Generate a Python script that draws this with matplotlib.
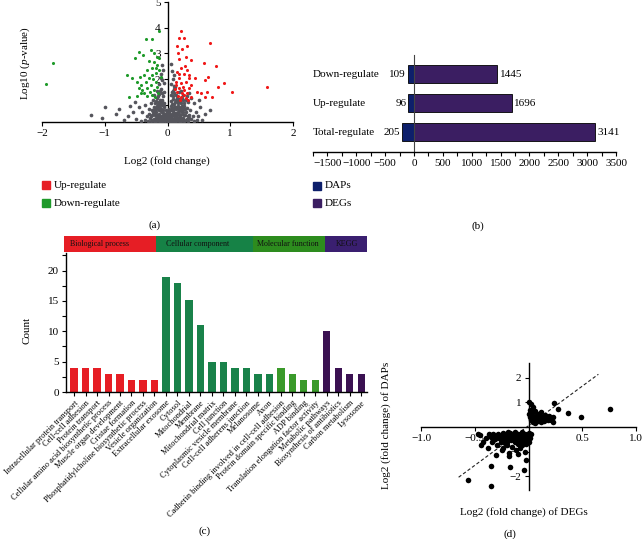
import matplotlib
matplotlib.use('Agg')
import matplotlib.pyplot as plt
from matplotlib.patches import Rectangle
from matplotlib.ticker import MultipleLocator, FixedLocator

plt.rcParams['font.family'] = 'Liberation Serif'
plt.rcParams['mathtext.fontset'] = 'custom'
plt.rcParams['mathtext.rm'] = 'Liberation Serif'
plt.rcParams['mathtext.it'] = 'Liberation Serif:italic'

# ---------------- data ----------------
# (a) volcano plot, (log2 fold change, log10 p-value)
up_pts = [(0.21, 3.88), (0.18, 3.58), (0.26, 3.58), (0.15, 3.29), (0.31, 3.29), (0.23, 3.16),
          (0.16, 3.0), (0.29, 2.87), (0.18, 2.77), (0.37, 2.74), (0.67, 3.39), (0.58, 2.61),
          (0.78, 2.52), (0.21, 2.42), (0.15, 2.29), (0.31, 2.35), (0.26, 2.2), (0.18, 2.03),
          (0.34, 2.03), (0.44, 2.03), (0.6, 1.96), (0.65, 2.09), (0.8, 1.71), (0.9, 1.83),
          (0.21, 1.83), (0.29, 1.9), (0.13, 1.77), (0.37, 1.77), (0.18, 1.64), (0.26, 1.58),
          (0.34, 1.64), (0.15, 1.51), (0.23, 1.45), (0.31, 1.45), (0.47, 1.51), (0.53, 1.45),
          (0.6, 1.32), (0.63, 1.51), (0.71, 1.32), (0.16, 1.35), (0.37, 1.32), (0.29, 1.25),
          (1.02, 1.5), (1.59, 1.69), (0.2, 1.2), (0.24, 1.7), (0.19, 2.2), (0.28, 2.5),
          (0.35, 2.15), (0.14, 1.9), (0.22, 1.3), (0.27, 1.4), (0.12, 1.6), (0.32, 1.2)]
down_pts = [(-0.35, 3.57), (-0.25, 3.57), (-0.13, 3.88), (-0.46, 3.07), (-0.51, 2.83),
            (-0.39, 2.92), (-0.27, 3.13), (-0.21, 3.0), (-0.3, 2.72), (-0.22, 2.67),
            (-0.14, 2.84), (-0.16, 2.55), (-0.25, 2.42), (-0.32, 2.35), (-0.38, 2.16),
            (-0.44, 2.09), (-0.56, 2.03), (-0.65, 2.16), (-0.48, 1.9), (-0.43, 1.77),
            (-0.35, 1.9), (-0.3, 2.03), (-0.25, 2.16), (-0.19, 2.22), (-0.14, 2.35),
            (-0.27, 1.77), (-0.32, 1.64), (-0.4, 1.58), (-0.46, 1.64), (-0.22, 1.58),
            (-0.16, 1.71), (-0.28, 1.51), (-0.38, 1.45), (-0.19, 1.9), (-0.11, 2.09),
            (-0.43, 1.45), (-0.48, 1.35), (-0.61, 1.3), (-0.25, 1.38), (-1.82, 2.63),
            (-1.94, 1.81), (-0.2, 1.3), (-0.15, 1.45), (-0.23, 2.0), (-0.18, 2.45),
            (-0.16, 2.86), (-0.33, 1.35)]
ns_pts = [(-0.42, 0.38), (-0.36, 0.42), (-0.31, 0.36), (-0.28, 0.47), (-0.24, 0.4), (-0.21, 0.35),
          (-0.19, 0.5), (-0.16, 0.43), (-0.14, 0.37), (-0.12, 0.48), (-0.1, 0.4), (-0.08, 0.34),
          (-0.06, 0.45), (-0.04, 0.38), (-0.02, 0.5), (0.0, 0.36), (0.02, 0.44), (0.04, 0.35),
          (0.06, 0.49), (0.08, 0.4), (0.1, 0.36), (0.12, 0.46), (0.14, 0.39), (0.16, 0.5),
          (0.19, 0.42), (0.22, 0.36), (0.25, 0.47), (0.29, 0.4), (0.33, 0.37), (0.38, 0.44),
          (0.47, 0.4), (-0.33, 0.58), (-0.29, 0.66), (-0.26, 0.55), (-0.23, 0.7), (-0.2, 0.6),
          (-0.18, 0.72), (-0.15, 0.56), (-0.13, 0.65), (-0.11, 0.74), (-0.09, 0.57), (-0.07, 0.67),
          (-0.05, 0.55), (-0.03, 0.62), (-0.01, 0.72), (0.01, 0.58), (0.03, 0.68), (0.05, 0.56),
          (0.07, 0.64), (0.09, 0.74), (0.11, 0.58), (0.13, 0.69), (0.15, 0.6), (0.17, 0.73),
          (0.2, 0.56), (0.23, 0.66), (0.26, 0.59), (0.3, 0.7), (0.35, 0.62), (0.4, 0.56),
          (-0.3, 0.85), (-0.25, 0.8), (-0.22, 0.92), (-0.19, 0.83), (-0.16, 0.95), (-0.14, 0.78),
          (-0.12, 0.88), (-0.09, 0.98), (-0.07, 0.8), (-0.05, 0.9), (-0.03, 0.78), (0.03, 0.82),
          (0.05, 0.95), (0.07, 0.86), (0.09, 0.78), (0.11, 0.92), (0.13, 0.84), (0.16, 0.97),
          (0.18, 0.8), (0.21, 0.9), (0.24, 0.83), (0.27, 0.96), (0.31, 0.86), (0.36, 0.8),
          (-0.27, 1.05), (-0.23, 1.18), (-0.2, 1.08), (-0.17, 1.25), (-0.14, 1.12), (-0.11, 1.02),
          (-0.08, 1.2), (-0.06, 1.08), (0.05, 1.15), (0.07, 1.04), (0.09, 1.22), (0.12, 1.1),
          (0.15, 1.28), (0.17, 1.05), (0.2, 1.15), (0.23, 1.25), (0.26, 1.06), (0.29, 1.18),
          (0.33, 1.1), (-0.21, 1.38), (-0.17, 1.52), (-0.13, 1.42), (-0.1, 1.6), (-0.07, 1.35),
          (-0.05, 1.5), (0.06, 1.4), (0.08, 1.55), (0.11, 1.45), (0.12, 1.68), (0.09, 1.33),
          (0.22, 1.55), (0.25, 1.4), (0.31, 1.35), (-0.13, 1.8), (-0.09, 1.95), (-0.11, 2.2),
          (-0.07, 2.35), (-0.05, 1.85), (0.06, 1.8), (0.08, 2.0), (0.1, 2.15), (0.07, 2.3),
          (-0.08, 2.55), (0.05, 2.6), (-0.1, 2.05), (0.11, 1.75), (-1.22, 0.6), (-1.05, 0.5),
          (-0.82, 0.65), (-0.77, 0.85), (-1.0, 0.9), (-0.6, 0.95), (-0.55, 0.72), (-0.5, 0.45),
          (-0.52, 1.1), (-0.45, 0.9), (-0.4, 0.7), (-0.36, 1.0), (-0.63, 0.55), (-0.7, 0.4),
          (0.45, 0.7), (0.52, 0.9), (0.6, 0.65), (0.42, 1.05), (0.38, 1.25), (0.48, 0.55),
          (0.55, 0.4), (0.68, 0.8), (0.5, 1.2), (0.35, 1.45),
          (-0.27, 0.38), (-0.22, 0.44), (-0.18, 0.37), (-0.15, 0.47), (-0.11, 0.35), (-0.09, 0.46),
          (-0.05, 0.4), (-0.01, 0.42), (0.01, 0.35), (0.03, 0.5), (0.07, 0.37), (0.09, 0.45),
          (0.11, 0.41), (0.13, 0.35), (0.15, 0.44), (0.18, 0.36), (0.21, 0.48), (0.24, 0.41),
          (0.27, 0.35), (0.31, 0.45), (0.35, 0.5), (0.42, 0.36), (-0.25, 0.62), (-0.21, 0.67),
          (-0.17, 0.6), (-0.12, 0.58), (-0.08, 0.7), (-0.04, 0.66), (0.0, 0.62), (0.02, 0.75),
          (0.06, 0.6), (0.1, 0.67), (0.14, 0.55), (0.18, 0.64), (0.22, 0.74), (0.25, 0.7),
          (0.28, 0.62), (0.32, 0.55), (-0.21, 0.78), (-0.17, 0.88), (-0.13, 0.97), (-0.1, 0.85),
          (-0.06, 0.97), (0.06, 0.78), (0.1, 0.88), (0.14, 0.93), (0.17, 0.88), (0.2, 0.82),
          (0.23, 0.95), (0.28, 0.85), (-0.18, 1.15), (-0.15, 1.02), (-0.12, 1.2), (-0.09, 1.1),
          (0.1, 1.02), (0.13, 1.2), (0.16, 1.15), (0.19, 1.24), (0.22, 1.08), (0.25, 1.2),
          (-0.15, 1.35), (-0.12, 1.55), (-0.08, 1.45), (0.07, 1.48), (0.1, 1.6), (0.14, 1.38),
          (0.18, 1.5)]

# (b) counts of regulated proteins / genes
reg_cats = ['Total-regulate', 'Up-regulate', 'Down-regulate']
daps = [205, 96, 109]
degs = [3141, 1696, 1445]

# (c) GO / KEGG enrichment
go_terms = ['Intracellular protein transport', 'Cell-cell adhesion', 'Protein transport',
            'Cellular amino acid biosynthetic process', 'Muscle organ development',
            'Cristae formation', 'Phosphatidylcholine biosynthetic process',
            'Vesicle organization',
            'Extracellular exosome', 'Cytosol', 'Mitochondrial', 'Membrane',
            'Mitochondrial matrix', 'Cell junction', 'Cytoplasmic vesicle membrane',
            'Cell-cell adherens junction', 'Melanosome', 'Axon',
            'Cadherin binding involved in cell-cell adhesion', 'Protein domain specific binding',
            'ADP binding', 'Translation elongation factor activity',
            'Metabolic pathways', 'Biosynthesis of antibiotics', 'Carbon metabolism', 'Lysosome']
go_counts = [4, 4, 4, 3, 3, 2, 2, 2,
             19, 18, 15.2, 11, 5, 5, 4, 4, 3, 3,
             4, 3, 2, 2,
             10, 4, 3, 3]
go_groups = ['BP'] * 8 + ['CC'] * 10 + ['MF'] * 4 + ['KEGG'] * 4
group_names = ['Biological process', 'Cellular component', 'Molecular function', 'KEGG']

# (d) DEGs vs DAPs log2 fold change
cor_pts = [(0.0, 1.0), (0.02, 0.95), (0.04, 0.82), (0.01, 0.7), (0.0, 0.55), (0.03, 0.6),
           (0.06, 0.65), (0.01, 0.4), (0.02, 0.28), (0.04, 0.2), (0.05, 0.4), (0.07, 0.35),
           (0.08, 0.5), (0.09, 0.25), (0.1, 0.45), (0.11, 0.32), (0.12, 0.6), (0.13, 0.4),
           (0.14, 0.25), (0.15, 0.5), (0.16, 0.35), (0.17, 0.42), (0.18, 0.3), (0.19, 0.45),
           (0.2, 0.38), (0.21, 0.3), (0.23, 0.4), (0.12, 0.2), (0.06, 0.15), (0.09, 0.55),
           (0.24, 0.97), (0.27, 0.72), (0.23, 0.22), (0.37, 0.57), (0.49, 0.42), (0.76, 0.72),
           (0.03, 0.48),
           (-0.47, -0.3), (-0.45, -0.33), (-0.37, -0.28), (-0.35, -0.4), (-0.33, -0.3),
           (-0.31, -0.5), (-0.3, -0.35), (-0.28, -0.28), (-0.27, -0.45), (-0.26, -0.6),
           (-0.25, -0.33), (-0.24, -0.25), (-0.23, -0.5), (-0.22, -0.38), (-0.21, -0.28),
           (-0.2, -0.6), (-0.19, -0.45), (-0.18, -0.32), (-0.17, -0.25), (-0.16, -0.55),
           (-0.15, -0.4), (-0.14, -0.3), (-0.13, -0.22), (-0.12, -0.5), (-0.11, -0.35),
           (-0.1, -0.27), (-0.09, -0.42), (-0.08, -0.6), (-0.07, -0.3), (-0.06, -0.22),
           (-0.05, -0.45), (-0.04, -0.35), (-0.03, -0.27), (-0.02, -0.5), (-0.01, -0.38),
           (0.0, -0.25), (0.01, -0.45), (0.0, -0.6), (-0.02, -0.7), (-0.06, -0.75),
           (-0.1, -0.68), (-0.13, -0.62), (-0.2, -0.75), (-0.24, -0.85), (-0.29, -0.72),
           (-0.34, -0.62), (-0.38, -0.85), (-0.42, -0.6), (-0.44, -0.75), (-0.3, -1.15),
           (-0.25, -0.95), (-0.18, -1.05), (-0.18, -1.2), (-0.12, -0.95), (-0.08, -0.85),
           (-0.03, -1.0), (-0.02, -1.35), (-0.04, -1.75), (-0.17, -1.65), (-0.35, -1.6),
           (-0.35, -2.4), (-0.56, -2.15), (-0.15, -0.8), (-0.1, -1.1), (-0.22, -0.65),
           (-0.16, -0.35), (-0.12, -0.4), (-0.08, -0.32), (-0.19, -0.22), (-0.26, -0.4),
           (-0.07, -0.52), (-0.03, -0.6), (-0.14, -0.48), (-0.21, -0.52), (0.02, -0.3),
           (-0.33, -0.52), (-0.4, -0.45)]
fit_x = [-0.65, 0.65]
fit_y = [-2.05, 2.15]

# ---------------- styling ----------------
RED = '#e61e25'
GREEN_DOWN = '#1e9a2a'
GREY = '#55555c'
DAP_COL = '#0d1f6b'
DEG_COL = '#3b1e62'
group_bar_col = {'BP': '#e61e25', 'CC': '#19824a', 'MF': '#3a9a2a', 'KEGG': '#3b1152'}
group_head_col = ['#e61e25', '#168246', '#2d8c1e', '#3a1f70']
FS = 8

W, H = 643, 539


def box(left, top, right, bottom):
    # pixel box -> figure fraction rect
    return [left / W, 1 - bottom / H, (right - left) / W, (bottom - top) / H]


def legend_item(px, py, color, label):
    fig.add_artist(Rectangle((px / W, 1 - (py + 4) / H), 8 / W, 8 / H,
                             transform=fig.transFigure, color=color))
    fig.text((px + 12) / W, 1 - py / H, label, fontsize=FS, va='center')


fig = plt.figure(figsize=(W / 100, H / 100), dpi=100)

# ---------------- (a) ----------------
ax = fig.add_axes(box(42, 2, 293, 122))
ax.scatter([p[0] for p in ns_pts], [p[1] for p in ns_pts], s=7, c=GREY, lw=0, zorder=3)
ax.scatter([p[0] for p in down_pts], [p[1] for p in down_pts], s=5, c=GREEN_DOWN, lw=0, zorder=4)
ax.scatter([p[0] for p in up_pts], [p[1] for p in up_pts], s=5, c='#f01818', lw=0, zorder=4)
ax.set_xlim(-2, 2)
ax.set_ylim(0.33, 5)
ax.spines['left'].set_position(('data', 0))
ax.spines[['top', 'right']].set_visible(False)
ax.spines[['left', 'bottom']].set_linewidth(1.0)
ax.set_xticks([-2, -1, 0, 1, 2])
ax.set_yticks([1, 2, 3, 4, 5])
ax.tick_params(labelsize=FS, length=3, width=0.8, pad=2)
fig.text(167 / W, 1 - 161 / H, 'Log2 (fold change)', fontsize=FS, ha='center', va='center')
fig.text(25 / W, 1 - 63 / H, 'Log10 ($\\it{p}$-value)', fontsize=FS, ha='center', va='center',
         rotation=90)
legend_item(42, 185, RED, 'Up-regulate')
legend_item(42, 203, GREEN_DOWN, 'Down-regulate')
fig.text(155 / W, 1 - 225 / H, '(a)', fontsize=FS, ha='center', va='center')

# ---------------- (b) ----------------
bx = fig.add_axes(box(313, 55, 616, 152))
ypos = list(range(len(reg_cats)))
bx.barh(ypos, [-v for v in daps], height=0.62, color=DAP_COL, edgecolor='black', lw=0.6, zorder=2)
bx.barh(ypos, degs, height=0.62, color=DEG_COL, edgecolor='black', lw=0.6, zorder=2)
for y, d, g, c in zip(ypos, daps, degs, reg_cats):
    bx.text(-d - 30, y, str(d), ha='right', va='center', fontsize=FS)
    bx.text(g + 40, y, str(g), ha='left', va='center', fontsize=FS)
    bx.text(0.0, y, c, ha='left', va='center', fontsize=FS,
            transform=bx.get_yaxis_transform())
bx.set_xlim(-1750, 3500)
bx.set_ylim(-0.69, 2.66)
bx.spines[['top', 'right']].set_visible(False)
bx.spines['left'].set_position(('data', 0))
bx.spines['left'].set_color('#444444')
bx.spines['left'].set_linewidth(0.8)
bx.spines['bottom'].set_linewidth(1.0)
bx.set_yticks([])
bx.xaxis.set_major_locator(FixedLocator(list(range(-1500, 3501, 500))))
bx.xaxis.set_minor_locator(MultipleLocator(250))
bx.tick_params(axis='x', which='both', length=3, width=0.8, labelsize=FS, pad=2)
legend_item(313, 186, DAP_COL, 'DAPs')
legend_item(313, 203, DEG_COL, 'DEGs')
fig.text(478 / W, 1 - 226 / H, '(b)', fontsize=FS, ha='center', va='center')

# ---------------- (c) ----------------
cx = fig.add_axes(box(66, 253, 367, 392))
xs = list(range(len(go_terms)))
cx.bar(xs, go_counts, width=0.64, color=[group_bar_col[g] for g in go_groups], zorder=2)
cx.set_xlim(-0.7, 25.5)
cx.set_ylim(0, 22.9)
cx.spines[['top', 'right']].set_visible(False)
cx.spines[['left', 'bottom']].set_linewidth(1.0)
cx.set_yticks([0, 5, 10, 15, 20])
cx.yaxis.set_minor_locator(MultipleLocator(2.5))
cx.set_xticks(xs)
cx.set_xticklabels(go_terms, rotation=45, ha='right', rotation_mode='anchor', fontsize=6)
cx.tick_params(axis='both', which='both', length=3, width=0.8, pad=2)
cx.tick_params(axis='y', labelsize=FS)
fig.text(27 / W, 1 - 330 / H, 'Count', fontsize=FS, ha='center', va='center', rotation=90)
fig.text(205 / W, 1 - 531 / H, '(c)', fontsize=FS, ha='center', va='center')

hx = fig.add_axes(box(64, 236, 367, 252))
head_edges = [64, 156, 253, 325, 367]
head_text_x = [70, 166, 257, 336]
for i, name in enumerate(group_names):
    hx.axvspan(head_edges[i], head_edges[i + 1], color=group_head_col[i], lw=0)
    hx.text(head_text_x[i], 0.5, name, fontsize=5.8, va='center', ha='left', color='#111111')
hx.set_xlim(64, 367)
hx.set_ylim(0, 1)
hx.axis('off')

# ---------------- (d) ----------------
dx = fig.add_axes(box(421, 363, 636, 490))
dx.plot(fit_x, fit_y, ls=(0, (3, 2)), color='#222222', lw=0.8, zorder=2)
dx.scatter([p[0] for p in cor_pts], [p[1] for p in cor_pts], s=16, c='black', lw=0, zorder=4)
dx.set_xlim(-1.0, 1.0)
dx.set_ylim(-2.57, 2.61)
dx.spines[['top', 'right']].set_visible(False)
dx.spines['left'].set_position(('data', 0))
dx.spines['bottom'].set_position(('data', 0))
dx.spines[['left', 'bottom']].set_linewidth(1.0)
dx.set_xticks([-1.0, -0.5, 0.5, 1.0])
dx.set_xticklabels(['\u22121.0', '\u22120.5', '0.5', '1.0'])
dx.set_yticks([-2, -1, 1, 2])
dx.tick_params(labelsize=FS, length=3, width=0.8, pad=2)
fig.text(524 / W, 1 - 512 / H, 'Log2 (fold change) of DEGs', fontsize=FS, ha='center', va='center')
fig.text(386 / W, 1 - 425 / H, 'Log2 (fold change) of DAPs', fontsize=FS, ha='center', va='center',
         rotation=90)
fig.text(510 / W, 1 - 534 / H, '(d)', fontsize=FS, ha='center', va='center')

fig.savefig('out.png', dpi=100)
